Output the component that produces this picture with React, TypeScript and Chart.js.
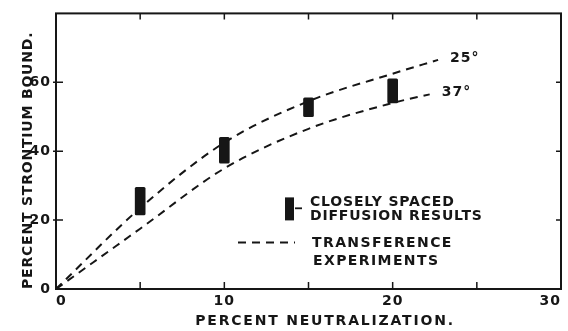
import React, { useEffect, useRef } from 'react';
import { Chart, registerables } from 'chart.js';

Chart.register(...registerables);

// Diffusion results: each bar spans the spread of closely spaced measurements
const barX = [5, 10, 15, 20];
const barLow = [21.5, 36.5, 50, 54];
const barHigh = [29.5, 44, 55.5, 61];

// Transference experiments, one smooth curve per temperature
const curve25X = [0, 5, 10, 15, 20, 22.7];
const curve25Y = [0, 23.5, 42.5, 54.5, 62.5, 66.5];
const curve37X = [0, 5, 10, 15, 20, 22.2];
const curve37Y = [0, 17.5, 35, 46.5, 54, 56.5];
const curveLabels = ['25°', '37°'];

// Axes
const xMin = 0;
const xMax = 30;
const xStep = 5;
const xLabelled = [0, 10, 20, 30];
const yMin = 0;
const yMax = 80;
const yStep = 20;
const yLabelled = [0, 20, 40, 60];
const xTitle = 'PERCENT NEUTRALIZATION.';
const yTitle = 'PERCENT STRONTIUM BOUND.';

// Legend text
const legendBarText = ['CLOSELY SPACED', 'DIFFUSION RESULTS'];
const legendLineText = ['TRANSFERENCE', 'EXPERIMENTS'];

const INK = '#161616';
const FAMILY = '"DejaVu Sans", "Liberation Sans", sans-serif';
const LABEL_FONT = `bold 14px ${FAMILY}`;
const DASH = [8, 6];

const decorPlugin = {
  id: 'decor',
  beforeDraw(chart: any) {
    chart.ctx.letterSpacing = '1px';
  },
  afterDraw(chart: any) {
    const { ctx, chartArea: a, scales } = chart;
    const xs = scales.x;
    const ys = scales.y;
    ctx.save();

    // frame
    ctx.strokeStyle = INK;
    ctx.lineWidth = 2;
    ctx.setLineDash([]);
    ctx.strokeRect(a.left, a.top, a.right - a.left, a.bottom - a.top);

    // tick marks
    ctx.lineWidth = 1.5;
    ctx.beginPath();
    for (let v = xMin + xStep; v < xMax; v += xStep) {
      const px = xs.getPixelForValue(v);
      ctx.moveTo(px, a.bottom);
      ctx.lineTo(px, a.bottom - 7);
      ctx.moveTo(px, a.top);
      ctx.lineTo(px, a.top + 6);
    }
    for (let v = yMin + yStep; v < yMax; v += yStep) {
      const py = ys.getPixelForValue(v);
      ctx.moveTo(a.left - 3, py);
      ctx.lineTo(a.left + 7, py);
      ctx.moveTo(a.right, py);
      ctx.lineTo(a.right - 5, py);
    }
    ctx.stroke();

    ctx.fillStyle = INK;
    ctx.font = LABEL_FONT;
    ctx.textBaseline = 'middle';
    ctx.letterSpacing = '1px';

    // curve labels at the end of each line
    [1, 2].forEach((di, k) => {
      const meta = chart.getDatasetMeta(di);
      const last = meta.data[meta.data.length - 1];
      ctx.textAlign = 'left';
      ctx.fillText(curveLabels[k], last.x + 12, last.y - 2);
    });

    // legend
    const lx = a.left + 229;
    const ly = a.top + 184;
    ctx.fillRect(lx, ly, 9, 23);
    ctx.fillRect(lx + 10, ly + 10, 7, 1.8);
    ctx.textAlign = 'left';
    ctx.letterSpacing = '0.8px';
    ctx.fillText(legendBarText[0], lx + 25, ly + 5);
    ctx.fillText(legendBarText[1], lx + 25, ly + 18.5);

    ctx.lineWidth = 2;
    ctx.setLineDash(DASH);
    ctx.beginPath();
    ctx.moveTo(lx - 47, ly + 45);
    ctx.lineTo(lx + 10, ly + 45);
    ctx.stroke();
    ctx.setLineDash([]);
    ctx.letterSpacing = '1.4px';
    ctx.fillText(legendLineText[0], lx + 27, ly + 45.5);
    ctx.fillText(legendLineText[1], lx + 28, ly + 63.5);

    // axis titles
    ctx.textAlign = 'center';
    ctx.letterSpacing = '1.8px';
    ctx.fillText(xTitle, 325, a.bottom + 32);
    ctx.letterSpacing = '0.8px';
    ctx.save();
    ctx.translate(28, a.bottom);
    ctx.rotate(-Math.PI / 2);
    ctx.textAlign = 'left';
    ctx.fillText(yTitle, 0, 0);
    ctx.restore();

    ctx.restore();
    ctx.letterSpacing = '0px';
  },
};

export default function App() {
  const ref = useRef<HTMLCanvasElement>(null);

  useEffect(() => {
    const tickFont = { family: FAMILY, size: 14, weight: 'bold' };
    const chart = new Chart(ref.current as HTMLCanvasElement, {
      type: 'bar',
      data: {
        datasets: [
          {
            type: 'bar',
            label: 'Closely spaced diffusion results',
            data: barX.map((x, i) => ({ x, y: [barLow[i], barHigh[i]] })) as any,
            backgroundColor: INK,
            borderWidth: 0,
            borderRadius: 1.5,
            borderSkipped: false,
            barThickness: 10,
          },
          {
            type: 'line',
            label: '25°',
            data: curve25X.map((x, i) => ({ x, y: curve25Y[i] })),
            borderColor: INK,
            borderWidth: 2,
            borderDash: DASH,
            pointRadius: 0,
            cubicInterpolationMode: 'monotone',
            fill: false,
          },
          {
            type: 'line',
            label: '37°',
            data: curve37X.map((x, i) => ({ x, y: curve37Y[i] })),
            borderColor: INK,
            borderWidth: 2,
            borderDash: DASH,
            pointRadius: 0,
            cubicInterpolationMode: 'monotone',
            fill: false,
          },
        ] as any,
      },
      options: {
        responsive: false,
        animation: false,
        devicePixelRatio: 1,
        layout: { padding: { left: 0, right: 7, top: 11, bottom: 0 } },
        plugins: { legend: { display: false }, tooltip: { enabled: false } },
        scales: {
          x: {
            type: 'linear',
            min: xMin,
            max: xMax,
            offset: false,
            grid: { display: false, drawTicks: false, offset: false },
            border: { display: false },
            ticks: {
              stepSize: xStep,
              autoSkip: false,
              maxRotation: 0,
              align: 'inner',
              padding: 4,
              color: INK,
              font: tickFont,
              callback: (v: any) => (xLabelled.includes(Number(v)) ? String(v) : ''),
            },
            afterFit: (s: any) => {
              s.height = 42;
            },
          },
          y: {
            type: 'linear',
            min: yMin,
            max: yMax,
            grid: { display: false, drawTicks: false },
            border: { display: false },
            ticks: {
              stepSize: yStep,
              padding: 5,
              color: INK,
              font: tickFont,
              callback: (v: any) => (yLabelled.includes(Number(v)) ? String(v) : ''),
            },
            afterFit: (s: any) => {
              s.width = 56;
            },
          },
        },
      } as any,
      plugins: [decorPlugin],
    });
    return () => chart.destroy();
  }, []);

  return (
    <div style={{ position: 'fixed', left: 0, top: 0, width: 568, height: 331, background: '#fff' }}>
      <canvas ref={ref} width={568} height={331} style={{ display: 'block', width: 568, height: 331 }} />
    </div>
  );
}
